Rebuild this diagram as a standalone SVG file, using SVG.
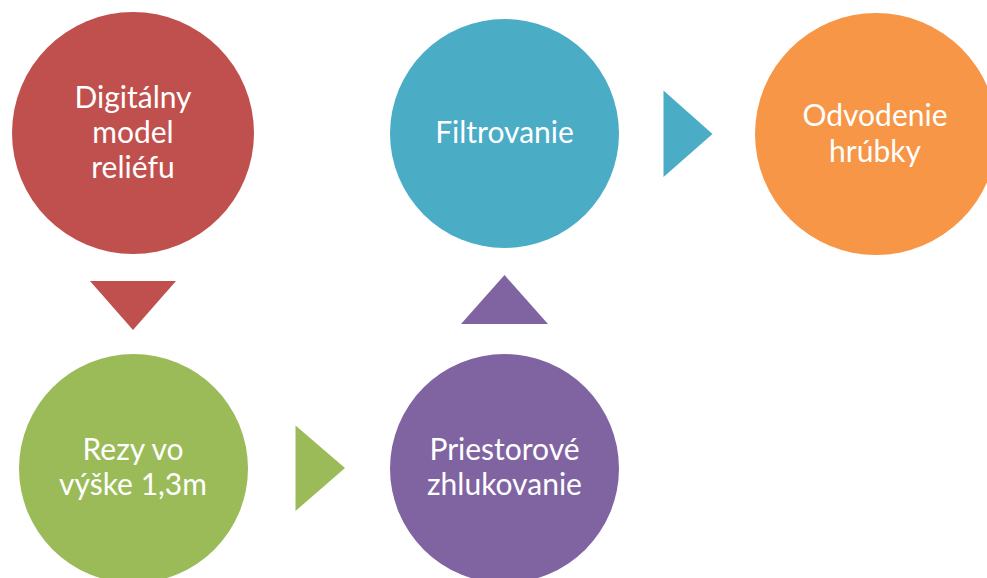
<svg xmlns="http://www.w3.org/2000/svg" width="987" height="578" viewBox="0 0 987 578">
  <style>
    .lbl { font-family: Lato, "Open Sans", "Liberation Sans", sans-serif; font-size: 30px; fill: #ffffff; text-anchor: middle; }
    .red { fill: #C0504D; }
    .blue { fill: #4BACC6; }
    .orange { fill: #F79646; }
    .green { fill: #9BBB59; }
    .purple { fill: #8064A2; }
  </style>
  <rect width="987" height="578" fill="#ffffff"/>

  <!-- process steps -->
  <g id="node-dmr">
    <circle class="red" cx="133" cy="133" r="121"/>
    <text class="lbl" x="133" y="108">Digitálny</text>
    <text class="lbl" x="133" y="143">model</text>
    <text class="lbl" x="133" y="178">reliéfu</text>
  </g>
  <g id="node-rezy">
    <circle class="green" cx="133.5" cy="468.5" r="114.5"/>
    <text class="lbl" x="133" y="460">Rezy vo</text>
    <text class="lbl" x="133" y="495">výške 1,3m</text>
  </g>
  <g id="node-zhlukovanie">
    <circle class="purple" cx="504.5" cy="468.5" r="114.5"/>
    <text class="lbl" x="504.5" y="460">Priestorové</text>
    <text class="lbl" x="504.5" y="495">zhlukovanie</text>
  </g>
  <g id="node-filtrovanie">
    <circle class="blue" cx="504.5" cy="133.5" r="114.5"/>
    <text class="lbl" x="504.5" y="143">Filtrovanie</text>
  </g>
  <g id="node-hrubka">
    <circle class="orange" cx="876" cy="134" r="121"/>
    <text class="lbl" x="875" y="126">Odvodenie</text>
    <text class="lbl" x="875" y="162">hrúbky</text>
  </g>

  <!-- flow arrows -->
  <g id="connectors">
    <polygon class="red" points="90,281 176,281 133,330"/>
    <polygon class="green" points="295.5,425.5 295.5,511 345,468"/>
    <polygon class="purple" points="461,324 548,324 504.5,275"/>
    <polygon class="blue" points="663.5,90.5 663.5,177 712.5,134"/>
  </g>
</svg>
